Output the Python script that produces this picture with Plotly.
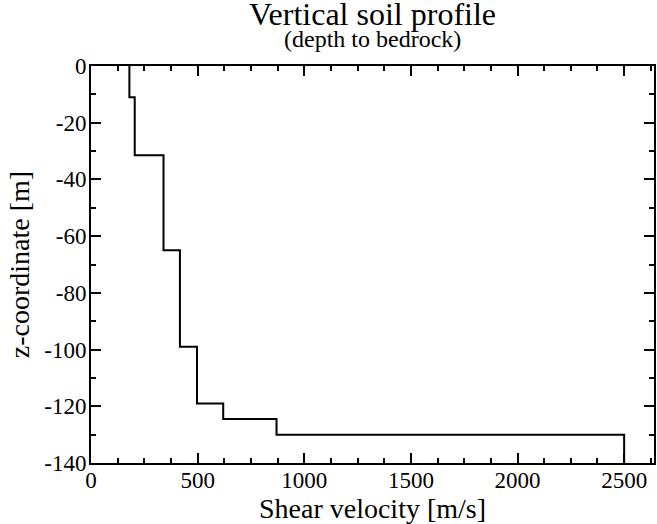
import plotly.graph_objects as go

# Layer boundaries (m) and shear velocities (m/s) per layer
layer_depths = [0, -11, -31.5, -65, -99, -119, -124.5, -130, -140]
shear_velocity = [180, 205, 340, 417, 497, 620, 870, 2500]

x_tick_vals = [0, 500, 1000, 1500, 2000, 2500]
x_tick_text = ["0", "500", "1000", "1500", "2000", "2500"]
y_tick_vals = [0, -20, -40, -60, -80, -100, -120, -140]
y_tick_text = ["0", "-20", "-40", "-60", "-80", "-100", "-120", "-140"]

FONT = "Liberation Serif"

xs = shear_velocity + [shear_velocity[-1]]
ys = layer_depths

fig = go.Figure()
fig.add_trace(go.Scatter(
    x=xs, y=ys, mode="lines", line=dict(color="black", width=2, shape="vh"),
    showlegend=False, hoverinfo="skip",
))

axis_common = dict(
    showline=True, linecolor="black", linewidth=2, mirror="ticks",
    ticks="inside", ticklen=10, tickwidth=1.5, tickcolor="black",
    showgrid=False, zeroline=False,
    tickfont=dict(family=FONT, size=23, color="black"),
    tickmode="array",
)

fig.update_layout(
    width=657, height=524,
    paper_bgcolor="white", plot_bgcolor="white",
    margin=dict(l=91, r=1, t=66, b=61),
    font=dict(family=FONT, color="black"),
    xaxis=dict(
        **axis_common, range=[0, 2640], tickvals=x_tick_vals, ticktext=x_tick_text,
        minor=dict(tickmode="linear", tick0=0, dtick=125, ticks="inside", ticklen=5,
                   tickwidth=1.5, tickcolor="black"),
        title=dict(text="Shear velocity [m/s]", font=dict(family=FONT, size=28), standoff=0),
        ticklabelstandoff=-5,
    ),
    yaxis=dict(
        **axis_common, range=[-140, 0], tickvals=y_tick_vals, ticktext=y_tick_text,
        minor=dict(tickmode="linear", tick0=0, dtick=10, ticks="inside", ticklen=5,
                   tickwidth=1.5, tickcolor="black"),
        title=dict(text="z-coordinate [m]", font=dict(family=FONT, size=28), standoff=6),
        ticklabelstandoff=-2,
    ),
    annotations=[
        dict(text="Vertical soil profile", xref="paper", yref="paper", x=0.5, y=1,
             yanchor="bottom", yshift=32, showarrow=False,
             font=dict(family=FONT, size=32, color="black")),
        dict(text="(depth to bedrock)", xref="paper", yref="paper", x=0.5, y=1,
             yanchor="bottom", yshift=12, showarrow=False,
             font=dict(family=FONT, size=24, color="black")),
    ],
)

fig.write_html(
    "out.html",
    config={"displayModeBar": False},
    post_script="document.body.style.margin='0';document.body.style.overflow='hidden';",
)
